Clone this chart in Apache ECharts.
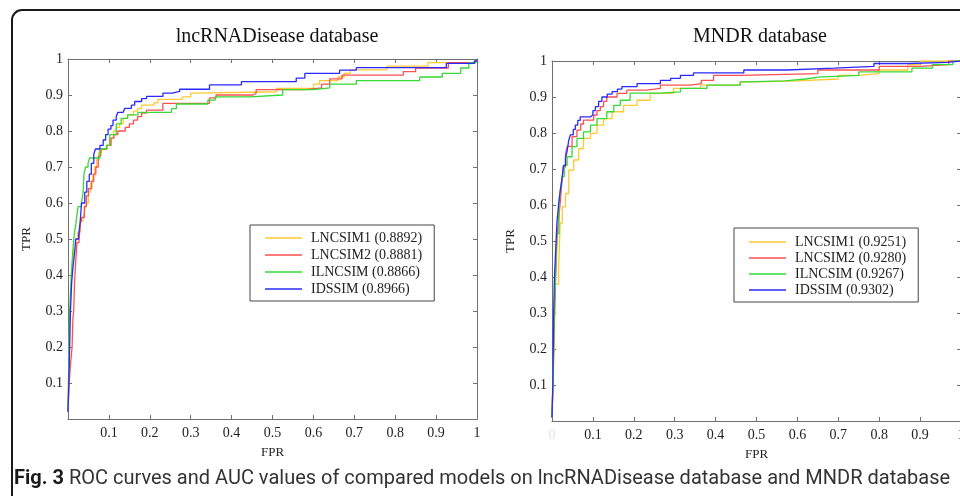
<!DOCTYPE html>
<html><head><meta charset="utf-8">
<script src="https://cdn.jsdelivr.net/npm/echarts@6/dist/echarts.min.js"></script>
<style>html,body{margin:0;padding:0;background:#fff}#c{width:960px;height:496px}</style>
</head><body><div id="c"></div>
<script>
// ---- Data ----
const ticks = [0.1,0.2,0.3,0.4,0.5,0.6,0.7,0.8,0.9,1];
const leftTitle = 'lncRNADisease database';
const rightTitle = 'MNDR database';
const leftNames = ['LNCSIM1 (0.8892)','LNCSIM2 (0.8881)','ILNCSIM (0.8866)','IDSSIM (0.8966)'];
const rightNames = ['LNCSIM1 (0.9251)','LNCSIM2 (0.9280)','ILNCSIM (0.9267)','IDSSIM (0.9302)'];

// lncRNADisease ROC points [FPR, TPR]
const L_LNCSIM1 = [[0,0.02],[0.002,0.15],[0.004,0.25],[0.007,0.35],[0.01,0.42],[0.014,0.47],[0.019,0.5],[0.024,0.52],[0.03,0.55],[0.037,0.56],[0.041,0.58],[0.045,0.6],[0.05,0.63],[0.055,0.66],[0.06,0.68],[0.065,0.7],[0.07,0.72],[0.075,0.74],[0.082,0.75],[0.095,0.76],[0.105,0.78],[0.112,0.8],[0.118,0.81],[0.126,0.82],[0.135,0.835],[0.145,0.845],[0.16,0.855],[0.17,0.862],[0.18,0.872],[0.21,0.878],[0.22,0.888],[0.28,0.895],[0.3,0.905],[0.314,0.909],[0.51,0.918],[0.6,0.93],[0.615,0.94],[0.66,0.95],[0.675,0.96],[0.69,0.97],[0.78,0.98],[0.88,0.99],[0.99,0.995],[1,1]];
const L_LNCSIM2 = [[0,0.02],[0.003,0.1],[0.006,0.15],[0.01,0.2],[0.012,0.28],[0.014,0.3],[0.016,0.38],[0.019,0.44],[0.022,0.49],[0.027,0.5],[0.03,0.54],[0.034,0.56],[0.04,0.59],[0.045,0.62],[0.05,0.64],[0.058,0.66],[0.063,0.68],[0.068,0.7],[0.074,0.73],[0.08,0.75],[0.095,0.76],[0.105,0.78],[0.112,0.79],[0.122,0.8],[0.14,0.81],[0.15,0.82],[0.16,0.83],[0.17,0.84],[0.18,0.85],[0.192,0.858],[0.232,0.877],[0.346,0.892],[0.362,0.9],[0.452,0.905],[0.46,0.915],[0.58,0.92],[0.62,0.93],[0.64,0.945],[0.67,0.955],[0.82,0.965],[0.85,0.975],[0.93,0.99],[0.99,0.995],[1,1]];
const L_ILNCSIM = [[0,0.02],[0.002,0.15],[0.004,0.3],[0.008,0.4],[0.012,0.47],[0.016,0.52],[0.019,0.54],[0.022,0.57],[0.025,0.59],[0.033,0.6],[0.037,0.63],[0.039,0.68],[0.043,0.7],[0.049,0.71],[0.053,0.725],[0.078,0.75],[0.094,0.76],[0.102,0.79],[0.118,0.82],[0.13,0.835],[0.146,0.845],[0.171,0.852],[0.253,0.862],[0.265,0.875],[0.342,0.886],[0.36,0.895],[0.444,0.9],[0.525,0.915],[0.6,0.92],[0.64,0.93],[0.705,0.94],[0.86,0.95],[0.915,0.96],[0.96,0.975],[0.98,0.99],[0.998,1]];
const L_IDSSIM = [[0,0.02],[0.002,0.1],[0.004,0.2],[0.006,0.3],[0.009,0.38],[0.012,0.42],[0.016,0.46],[0.019,0.5],[0.026,0.51],[0.03,0.55],[0.033,0.6],[0.041,0.63],[0.046,0.66],[0.052,0.68],[0.057,0.71],[0.063,0.735],[0.067,0.75],[0.078,0.76],[0.086,0.775],[0.092,0.79],[0.098,0.805],[0.105,0.815],[0.11,0.83],[0.118,0.84],[0.122,0.852],[0.135,0.857],[0.139,0.863],[0.155,0.872],[0.163,0.882],[0.18,0.89],[0.192,0.896],[0.232,0.905],[0.255,0.91],[0.273,0.916],[0.346,0.928],[0.424,0.937],[0.558,0.947],[0.579,0.96],[0.664,0.969],[0.705,0.976],[0.925,0.988],[0.994,0.995],[1,1]];

// MNDR ROC points [FPR, TPR]
const M_LNCSIM1 = [[0,0.01],[0.003,0.1],[0.005,0.2],[0.007,0.3],[0.008,0.38],[0.016,0.42],[0.02,0.55],[0.025,0.595],[0.033,0.632],[0.041,0.697],[0.053,0.725],[0.065,0.757],[0.077,0.785],[0.094,0.799],[0.11,0.822],[0.126,0.84],[0.147,0.859],[0.175,0.877],[0.208,0.891],[0.24,0.91],[0.297,0.924],[0.363,0.933],[0.46,0.942],[0.5,0.945],[0.6,0.95],[0.7,0.96],[0.75,0.965],[0.8,0.975],[0.87,0.99],[0.9,1],[1,1]];
const M_LNCSIM2 = [[0,0.01],[0.002,0.1],[0.004,0.2],[0.006,0.3],[0.009,0.4],[0.012,0.5],[0.016,0.56],[0.02,0.605],[0.024,0.66],[0.028,0.705],[0.033,0.74],[0.037,0.763],[0.049,0.79],[0.061,0.808],[0.07,0.825],[0.077,0.836],[0.102,0.85],[0.11,0.862],[0.118,0.873],[0.126,0.888],[0.134,0.9],[0.159,0.91],[0.183,0.919],[0.232,0.924],[0.265,0.933],[0.338,0.937],[0.365,0.946],[0.395,0.96],[0.46,0.965],[0.65,0.975],[0.8,0.985],[0.9,0.99],[0.97,1],[1,1]];
const M_ILNCSIM = [[0,0.01],[0.002,0.1],[0.004,0.2],[0.006,0.3],[0.009,0.42],[0.012,0.52],[0.017,0.609],[0.021,0.64],[0.025,0.679],[0.03,0.71],[0.037,0.734],[0.049,0.762],[0.061,0.785],[0.077,0.803],[0.094,0.822],[0.11,0.84],[0.134,0.859],[0.151,0.877],[0.167,0.891],[0.191,0.911],[0.265,0.914],[0.314,0.924],[0.379,0.933],[0.46,0.942],[0.47,0.945],[0.57,0.95],[0.62,0.955],[0.65,0.96],[0.75,0.97],[0.88,0.98],[0.93,0.99],[0.98,1],[1,1]];
const M_IDSSIM = [[0,0.01],[0.002,0.1],[0.003,0.2],[0.004,0.3],[0.006,0.4],[0.008,0.45],[0.012,0.55],[0.016,0.6],[0.02,0.64],[0.024,0.67],[0.028,0.71],[0.033,0.73],[0.037,0.75],[0.041,0.78],[0.045,0.795],[0.052,0.81],[0.057,0.822],[0.063,0.835],[0.069,0.845],[0.094,0.85],[0.1,0.862],[0.106,0.873],[0.114,0.888],[0.122,0.9],[0.135,0.908],[0.147,0.915],[0.16,0.922],[0.171,0.929],[0.208,0.937],[0.265,0.946],[0.29,0.952],[0.314,0.96],[0.346,0.967],[0.469,0.975],[0.575,0.98],[0.69,0.985],[0.787,0.993],[0.87,0.996],[0.967,1],[1,1]];

const caption = ' ROC curves and AUC values of compared models on lncRNADisease database and MNDR database';

// ---- Chart ----
const colors = ['#FFC933','#FF4F4F','#36D936','#2A2AFF'];
const serif = 'Liberation Serif, Times New Roman, serif';
const axisCol = '#707070';

function xAx(grid, pos, showLabel, zeroFaint) {
  return {
    type:'value', gridIndex:grid, position:pos, min:0, max:1, interval:0.1,
    name: showLabel ? 'FPR' : '', nameLocation:'middle', nameGap:27,
    nameTextStyle:{fontFamily:serif, fontSize:13, color:'#222'},
    axisLine:{show:true, onZero:false, lineStyle:{color:axisCol, width:1}},
    axisTick:{show:true, inside:true, length:4, lineStyle:{color:axisCol}},
    splitLine:{show:false},
    axisLabel:{show:showLabel, fontFamily:serif, fontSize:14, color:'#222', margin:7,
      hideOverlap:false,
      formatter: v => v===0 ? (zeroFaint ? '{z|0}' : '') : String(+v.toFixed(1)),
      rich:{z:{color:'#e4e4e4', fontFamily:serif, fontSize:14}}}
  };
}
function yAx(grid, pos, showLabel) {
  return {
    type:'value', gridIndex:grid, position:pos, min:0, max:1, interval:0.1,
    name: showLabel ? 'TPR' : '', nameLocation:'middle', nameGap:35,
    nameTextStyle:{fontFamily:serif, fontSize:13, color:'#222'},
    axisLine:{show:true, onZero:false, lineStyle:{color:axisCol, width:1}},
    axisTick:{show:true, inside:true, length:4, lineStyle:{color:axisCol}},
    splitLine:{show:false},
    axisLabel:{show:showLabel, fontFamily:serif, fontSize:14, color:'#222', margin:5,
      formatter: v => v===0 ? '' : String(+v.toFixed(1))}
  };
}
function ser(name, data, idx, ci) {
  return {type:'line', name, data, xAxisIndex:idx, yAxisIndex:idx, step:'end',
    symbol:'none', color:colors[ci], lineStyle:{width:1.3, color:colors[ci]}, animation:false, z:3};
}
function legend(names, left, top, pad, gap) {
  return {data:names, orient:'vertical', left, top, icon:'rect', itemWidth:37, itemHeight:1.6,
    itemGap:gap, padding:pad, borderColor:'#444', borderWidth:1, backgroundColor:'#fff',
    textStyle:{fontFamily:serif, fontSize:14, color:'#222', lineHeight:16, padding:[0,0,0,4]},
    selectedMode:false};
}

const chart = echarts.init(document.getElementById('c'), null, {renderer:'canvas'});
chart.setOption({
  backgroundColor:'#fff',
  animation:false,
  title:[
    {text:leftTitle, left:272, top:22, textAlign:'center', textStyle:{fontFamily:serif, fontSize:20, fontWeight:'normal', color:'#111'}},
    {text:rightTitle, left:755, top:22, textAlign:'center', textStyle:{fontFamily:serif, fontSize:20, fontWeight:'normal', color:'#111'}}
  ],
  grid:[
    {left:68, top:59, width:409, height:360, show:false, containLabel:false, outerBoundsMode:'none'},
    {left:552, top:61, width:409, height:360, show:false, containLabel:false, outerBoundsMode:'none'}
  ],
  xAxis:[xAx(0,'bottom',true,false), xAx(0,'top',false,false), xAx(1,'bottom',true,true), xAx(1,'top',false,false)],
  yAxis:[yAx(0,'left',true), yAx(0,'right',false), yAx(1,'left',true), yAx(1,'right',false)],
  legend:[legend(leftNames,250,225,[5,12,4,15],1), legend(rightNames,734,228,[6,12,4,15],0)],
  series:[
    ser(leftNames[0], L_LNCSIM1, 0, 0), ser(leftNames[1], L_LNCSIM2, 0, 1), ser(leftNames[2], L_ILNCSIM, 0, 2), ser(leftNames[3], L_IDSSIM, 0, 3),
    ser(rightNames[0], M_LNCSIM1, 2, 0), ser(rightNames[1], M_LNCSIM2, 2, 1), ser(rightNames[2], M_ILNCSIM, 2, 2), ser(rightNames[3], M_IDSSIM, 2, 3)
  ],
  graphic:[
    {type:'rect', shape:{x:12, y:10, width:1000, height:600, r:10}, style:{fill:null, stroke:'#1a1a1a', lineWidth:2}, silent:true},
    {type:'text', left:14, top:469, style:{text:'{b|Fig. 3}{r|'+caption+'}',
      rich:{b:{fontFamily:'Roboto, sans-serif', fontWeight:'bold', fontSize:20, fill:'#1a1a1a'},
            r:{fontFamily:'Roboto, sans-serif', fontSize:20, fill:'#333'}}}}
  ]
});
</script></body></html>
